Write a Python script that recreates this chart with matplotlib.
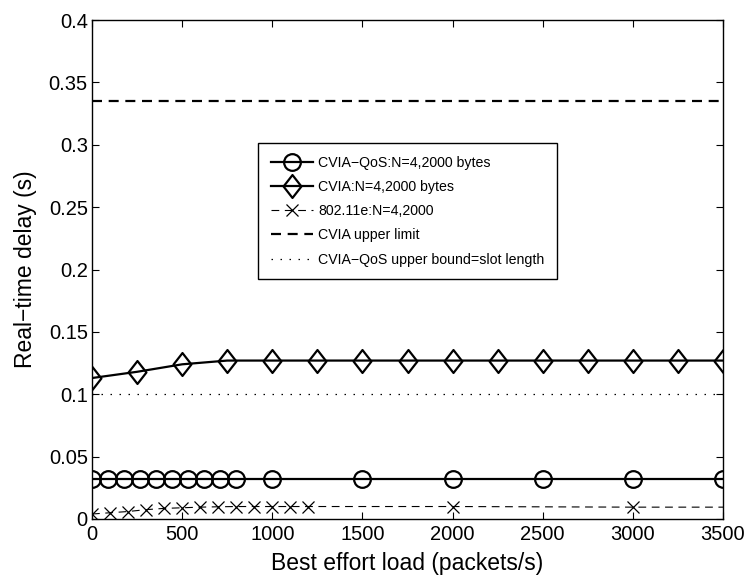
import matplotlib
matplotlib.use("Agg")
import matplotlib.pyplot as plt
from matplotlib.path import Path

plt.rcParams['font.family'] = ['Liberation Sans', 'DejaVu Sans']

# Data
qos_x = [0, 89, 178, 267, 356, 444, 533, 622, 711, 800, 1000, 1500, 2000, 2500, 3000, 3500]
qos_y = [0.032] * len(qos_x)

cvia_x = [0, 250, 500, 750, 1000, 1250, 1500, 1750, 2000, 2250, 2500, 2750, 3000, 3250, 3500]
cvia_y = [0.113, 0.118, 0.124, 0.127, 0.127, 0.127, 0.127, 0.127, 0.127, 0.127, 0.127, 0.127, 0.127, 0.127, 0.127]

e_x = [0, 100, 200, 300, 400, 500, 600, 700, 800, 900, 1000, 1100, 1200, 2000, 3000, 3500]
e_y = [0.004, 0.005, 0.006, 0.0075, 0.0085, 0.009, 0.0095, 0.0098, 0.010, 0.010, 0.010, 0.010, 0.010, 0.010, 0.0095, 0.0095]
e_marker_idx = list(range(15))

upper_limit = 0.335
slot_length = 0.1
x_range = [0, 3500]

xticks = [0, 500, 1000, 1500, 2000, 2500, 3000, 3500]
yticks = [0, 0.05, 0.1, 0.15, 0.2, 0.25, 0.3, 0.35, 0.4]
yticklabels = ['0', '0.05', '0.1', '0.15', '0.2', '0.25', '0.3', '0.35', '0.4']

# tall diamond marker (MATLAB style)
tall_diamond = Path([(0, 1), (0.78, 0), (0, -1), (-0.78, 0), (0, 1)],
                    [Path.MOVETO, Path.LINETO, Path.LINETO, Path.LINETO, Path.CLOSEPOLY])

fig = plt.figure(figsize=(7.48, 5.76), dpi=100)
ax = fig.add_axes([92/748, 57/576, 631/748, 499/576])

ax.plot(qos_x, qos_y, '-', color='black', lw=1.6, marker='o', ms=12,
        mfc='none', mec='black', mew=1.6, label='CVIA\u2212QoS:N=4,2000 bytes', zorder=4)
ax.plot(cvia_x, cvia_y, '-', color='black', lw=1.6, marker=tall_diamond, ms=16.5,
        mfc='none', mec='black', mew=1.6, label='CVIA:N=4,2000 bytes', zorder=4)
ax.plot(e_x, e_y, '--', color='black', lw=0.8, dashes=(7, 5), marker='x', ms=8,
        mec='black', mew=0.9, markevery=e_marker_idx, label='802.11e:N=4,2000', zorder=3)
ax.plot(x_range, [upper_limit, upper_limit], '--', color='black', lw=1.6, dashes=(4.5, 3),
        label='CVIA upper limit')
ax.plot(x_range, [slot_length, slot_length], ':', color='black', lw=0.9, dashes=(1.2, 6),
        label='CVIA\u2212QoS upper bound=slot length')

ax.set_xlim(0, 3500)
ax.set_ylim(0, 0.4)
ax.set_xticks(xticks)
ax.set_yticks(yticks)
ax.set_yticklabels(yticklabels)
ax.tick_params(direction='in', length=5, width=0.8, labelsize=14.5, top=True, right=True)
ax.tick_params(axis='x', pad=4)
ax.tick_params(axis='y', pad=3)
for s in ax.spines.values():
    s.set_linewidth(1.0)

ax.set_xlabel('Best effort load (packets/s)', fontsize=16.5, labelpad=6)
ax.set_ylabel('Real\u2212time delay (s)', fontsize=16.5, labelpad=8.5)

leg = ax.legend(loc='upper left', bbox_to_anchor=(0.263, 0.7535), borderaxespad=0,
                fontsize=10.2, handlelength=3.0, handletextpad=0.35, labelspacing=0.72,
                fancybox=False, framealpha=1, edgecolor='black', borderpad=0.9)
leg.get_frame().set_linewidth(1.0)

fig.savefig('out.png', dpi=100)
